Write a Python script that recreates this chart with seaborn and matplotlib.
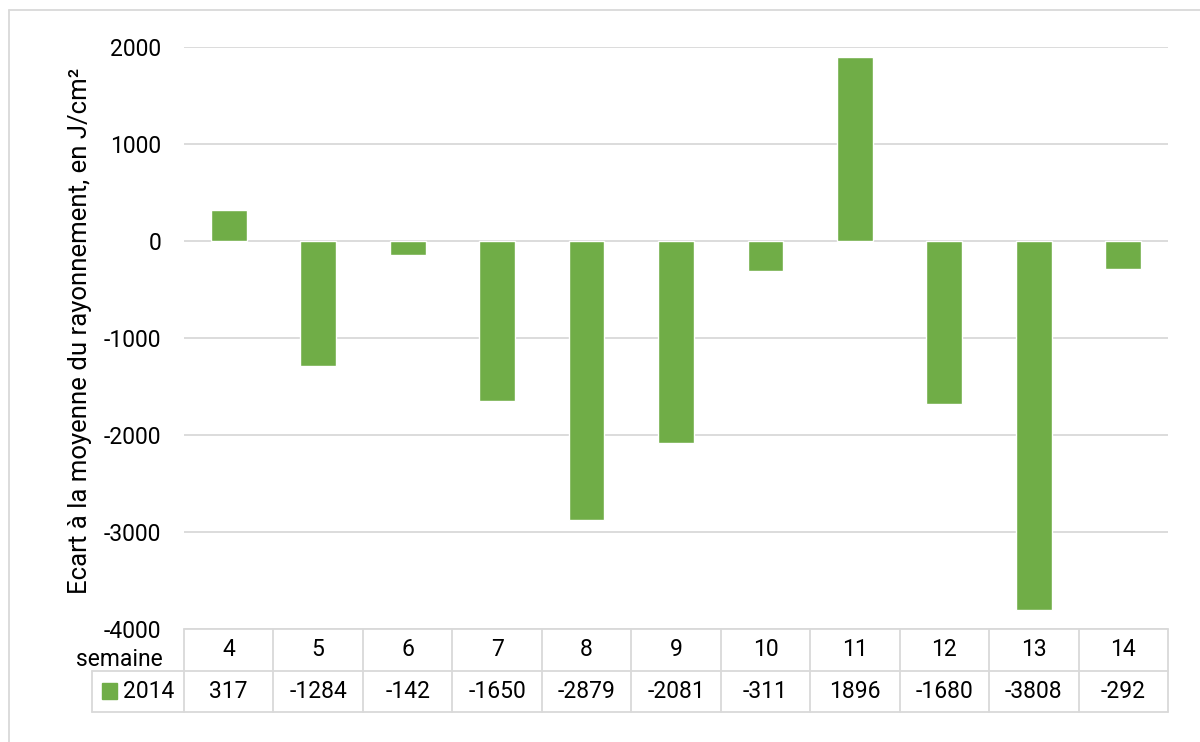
import matplotlib
matplotlib.use("Agg")
import matplotlib.pyplot as plt
from matplotlib.lines import Line2D
from matplotlib.patches import Rectangle
import seaborn as sns
import pandas as pd

# Weekly deviation from the mean solar radiation (J/cm²), year 2014
semaines = ["4", "5", "6", "7", "8", "9", "10", "11", "12", "13", "14"]
ecarts_2014 = [317, -1284, -142, -1650, -2879, -2081, -311, 1896, -1680, -3808, -292]
serie = "2014"
y_ticks = [-4000, -3000, -2000, -1000, 0, 1000, 2000]
y_label = "Ecart à la moyenne du rayonnement, en J/cm²"
row_header = "semaine"

GREEN = "#70AD47"
GRID = "#D9D9D9"
TEXT = "#000000"
FONT = "Roboto"
FS = 16.5

sns.set_theme(style="white")
plt.rcParams["font.family"] = [FONT, "DejaVu Sans"]

W, H = 1200, 742
fig = plt.figure(figsize=(W / 100, H / 100), dpi=100)

def fx(px):
    return px / W

def fy(py):
    return 1 - py / H

# plot area in pixel geometry
left_px, right_px, top_px, bottom_px = 184, 1168, 47, 629
ax = fig.add_axes([fx(left_px), fy(bottom_px), fx(right_px - left_px), fy(top_px) - fy(bottom_px)])

df = pd.DataFrame({"semaine": semaines, "ecart": ecarts_2014})
sns.barplot(data=df, x="semaine", y="ecart", color=GREEN, saturation=1,
            width=0.4, ax=ax, zorder=3)

ax.set_xlim(-0.5, len(semaines) - 0.5)
ax.set_ylim(y_ticks[0], y_ticks[-1])
ax.set_yticks(y_ticks)
ax.set_yticklabels([str(t) for t in y_ticks], fontsize=FS, color=TEXT)
ax.tick_params(axis="y", length=0, pad=16.5)
ax.set_xticks([])
ax.set_xlabel("")
ax.set_ylabel("")
for s in ax.spines.values():
    s.set_visible(False)
ax.yaxis.grid(True, color=GRID, linewidth=1.3, zorder=0)
ax.set_axisbelow(True)

# y-axis title
fig.text(fx(80), fy(331), y_label, rotation=90, ha="center", va="center",
         fontsize=18.5, color=TEXT)

# data table under the plot
row1_top, row1_bot, row2_bot = 629, 671, 712
header_left = 92
col_w = (right_px - left_px) / len(semaines)

lw = 1.3
fig.add_artist(Line2D([fx(left_px), fx(right_px)], [fy(row1_top)] * 2, color=GRID, lw=lw))
fig.add_artist(Line2D([fx(header_left), fx(right_px)], [fy(row1_bot)] * 2, color=GRID, lw=lw))
fig.add_artist(Line2D([fx(header_left), fx(right_px)], [fy(row2_bot)] * 2, color=GRID, lw=lw))
fig.add_artist(Line2D([fx(header_left)] * 2, [fy(row1_bot), fy(row2_bot)], color=GRID, lw=lw))
for i in range(len(semaines) + 1):
    x = left_px + i * col_w
    fig.add_artist(Line2D([fx(x)] * 2, [fy(row1_top), fy(row2_bot)], color=GRID, lw=lw))

for i, (s, v) in enumerate(zip(semaines, ecarts_2014)):
    cx = left_px + (i + 0.5) * col_w
    fig.text(fx(cx), fy((row1_top + row1_bot) / 2), s, ha="center", va="center",
             fontsize=FS, color=TEXT)
    fig.text(fx(cx), fy((row1_bot + row2_bot) / 2), str(v), ha="center", va="center",
             fontsize=FS, color=TEXT)

fig.text(fx(163), fy(659), row_header, ha="right", va="center", fontsize=FS, color=TEXT)
fig.add_artist(Rectangle((fx(102), fy(699)), fx(15), fy(683) - fy(699), color=GREEN,
                         transform=fig.transFigure))
fig.text(fx(123), fy(692), serie, ha="left", va="center", fontsize=FS, color=TEXT)

# chart frame
fig.add_artist(Line2D([fx(9), fx(1200)], [fy(9.5)] * 2, color=GRID, lw=lw))
fig.add_artist(Line2D([fx(9)] * 2, [fy(9.5), fy(742)], color=GRID, lw=lw))

fig.savefig("out.png", dpi=100, facecolor="white")
